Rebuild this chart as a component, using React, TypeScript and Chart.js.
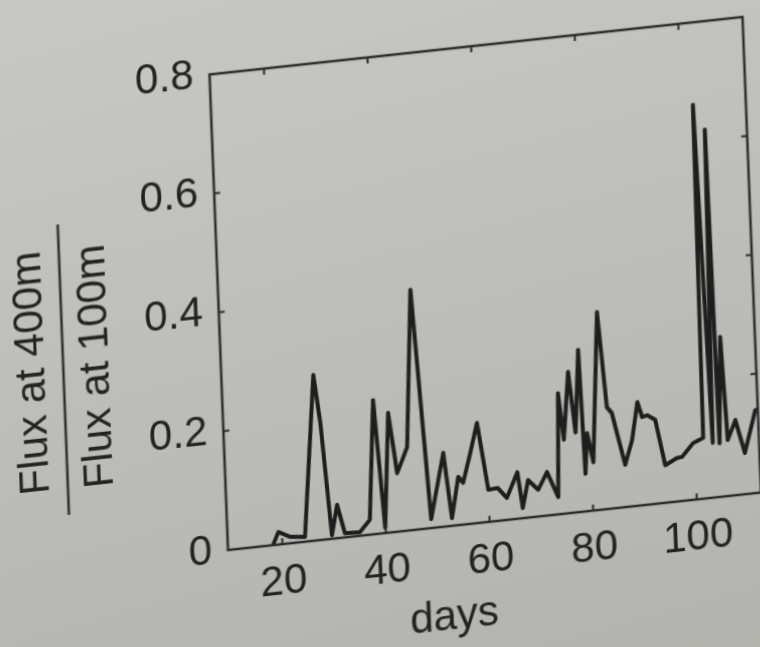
import React, { useEffect, useRef } from "react";
import { Chart, registerables } from "chart.js";

Chart.register(...registerables);

// ---- data ----
const days = [18.2, 19.3, 21.5, 24.4, 27.2, 28.2, 29.6, 30.8, 32.1, 35.0, 37.0, 38.5, 39.9, 41.3, 42.6, 44.7, 46.5, 48.8, 51.6, 52.8, 54.3, 55.2, 56.8, 58.3, 60.0, 61.8, 63.5, 65.7, 66.5, 67.7, 69.6, 71.4, 73.4, 74.1, 74.9, 76.2, 77.2, 78.3, 78.8, 79.4, 80.4, 82.2, 83.4, 84.3, 86.5, 88.0, 89.3, 90.1, 91.1, 92.6, 94.2, 96.5, 97.5, 99.7, 101.7, 102.2, 103.5, 104.3, 104.8, 105.7, 106.4, 108.0, 109.6, 111.9, 112.4];
const fluxRatio = [0.0, 0.021, 0.011, 0.008, 0.278, 0.196, 0.006, 0.056, 0.007, 0.006, 0.025, 0.225, 0.009, 0.201, 0.098, 0.14, 0.403, 0.015, 0.124, 0.013, 0.081, 0.07, 0.119, 0.168, 0.054, 0.055, 0.037, 0.078, 0.017, 0.063, 0.045, 0.073, 0.029, 0.203, 0.124, 0.237, 0.134, 0.272, 0.063, 0.131, 0.081, 0.332, 0.171, 0.16, 0.071, 0.111, 0.174, 0.148, 0.15, 0.141, 0.063, 0.073, 0.074, 0.095, 0.102, 0.662, 0.092, 0.618, 0.09, 0.268, 0.094, 0.126, 0.069, 0.139, 0.14];
const xTicks = [20, 40, 60, 80, 100];
const yTicks = [0, 0.2, 0.4, 0.6, 0.8];
const xRange = [9.5, 112.4];
const yRange = [0, 0.8];
const xTitle = "days";
const yTitleTop = "Flux at 400m";
const yTitleBottom = "Flux at 100m";

const FONT = "'Liberation Sans', Arial, Helvetica, sans-serif";
const INK = "#222222";

// canvas layout (unskewed), then skewed with CSS to match the photographed page
const CW = 813;
const CH = 705;
const AREA_LEFT = 240;
const AREA_TOP = 100;
const AREA_W = 533;
const AREA_H = 475;

const framePlugin = {
  id: "framePlugin",
  afterDraw(chart: any) {
    const { ctx, chartArea } = chart;
    const { left, right, top, bottom } = chartArea;
    const xs = chart.scales.x;
    const ys = chart.scales.y;
    ctx.save();
    ctx.strokeStyle = "#2a2a2a";
    ctx.lineWidth = 2.5;
    ctx.strokeRect(left, top, right - left, bottom - top);
    ctx.lineWidth = 2;
    const tl = 6;
    xTicks.forEach((v) => {
      const px = xs.getPixelForValue(v);
      ctx.beginPath();
      ctx.moveTo(px, bottom);
      ctx.lineTo(px, bottom - tl);
      ctx.moveTo(px, top);
      ctx.lineTo(px, top + tl);
      ctx.stroke();
    });
    yTicks.forEach((v) => {
      const py = ys.getPixelForValue(v);
      ctx.beginPath();
      ctx.moveTo(left, py);
      ctx.lineTo(left + tl, py);
      ctx.moveTo(right, py);
      ctx.lineTo(right - tl, py);
      ctx.stroke();
    });

    // x title
    ctx.fillStyle = INK;
    ctx.font = `42px ${FONT}`;
    ctx.textAlign = "center";
    ctx.textBaseline = "middle";
    ctx.fillText(xTitle, 463, 666);

    // y title as a fraction, rotated
    const cy = 378;
    ctx.save();
    ctx.translate(52, cy);
    ctx.rotate(-Math.PI / 2);
    ctx.fillText(yTitleTop, 0, 0);
    ctx.restore();
    ctx.save();
    ctx.translate(116, cy);
    ctx.rotate(-Math.PI / 2);
    ctx.fillText(yTitleBottom, 0, 0);
    ctx.restore();
    ctx.beginPath();
    ctx.lineWidth = 2.5;
    ctx.moveTo(83, cy - 145);
    ctx.lineTo(83, cy + 145);
    ctx.stroke();
    ctx.restore();
  },
};

export default function App() {
  const ref = useRef<HTMLCanvasElement | null>(null);

  useEffect(() => {
    if (!ref.current) return;
    const points = days.map((d, i) => ({ x: d, y: fluxRatio[i] }));
    const chart = new Chart(ref.current, {
      type: "line",
      data: {
        datasets: [
          {
            data: points,
            borderColor: "#1e1e1e",
            borderWidth: 4,
            borderJoinStyle: "round",
            borderCapStyle: "round",
            pointRadius: 0,
            tension: 0,
            fill: false,
          },
        ],
      },
      options: {
        animation: false,
        responsive: false,
        devicePixelRatio: 1,
        layout: {
          padding: { left: 0, top: AREA_TOP, right: CW - AREA_LEFT - AREA_W, bottom: 0 },
        },
        plugins: {
          legend: { display: false },
          tooltip: { enabled: false },
          title: { display: false },
        },
        scales: {
          x: {
            type: "linear",
            min: xRange[0],
            max: xRange[1],
            grid: { display: false, drawTicks: false },
            border: { display: false },
            afterBuildTicks: (scale: any) => {
              scale.ticks = xTicks.map((v) => ({ value: v }));
            },
            afterFit: (scale: any) => {
              scale.height = CH - AREA_TOP - AREA_H;
            },
            ticks: {
              padding: 13,
              color: INK,
              font: { family: FONT, size: 42 },
              maxRotation: 0,
              autoSkip: false,
              callback: (v: any) => String(v),
            },
          },
          y: {
            type: "linear",
            min: yRange[0],
            max: yRange[1],
            grid: { display: false, drawTicks: false },
            border: { display: false },
            afterBuildTicks: (scale: any) => {
              scale.ticks = yTicks.map((v) => ({ value: v }));
            },
            afterFit: (scale: any) => {
              scale.width = AREA_LEFT;
            },
            ticks: {
              padding: 16,
              color: INK,
              font: { family: FONT, size: 42 },
              autoSkip: false,
              callback: (v: any) => (Number(v) === 0 ? "0" : Number(v).toFixed(1)),
            },
          },
        },
      },
      plugins: [framePlugin],
    });
    return () => chart.destroy();
  }, []);

  return (
    <div
      style={{
        position: "fixed",
        left: 0,
        top: 0,
        width: 760,
        height: 647,
        overflow: "hidden",
        background: "linear-gradient(165deg, #c8c9c4 0%, #bdbeb9 50%, #b2b3ad 100%)",
      }}
    >
      <canvas
        ref={ref}
        width={CW}
        height={CH}
        style={{
          position: "absolute",
          left: 0,
          top: 0,
          width: CW,
          height: CH,
          transformOrigin: "0 0",
          transform: "matrix(1, -0.1079, 0.03895, 1.001, -34.4, 0.3)",
        }}
      />
    </div>
  );
}
